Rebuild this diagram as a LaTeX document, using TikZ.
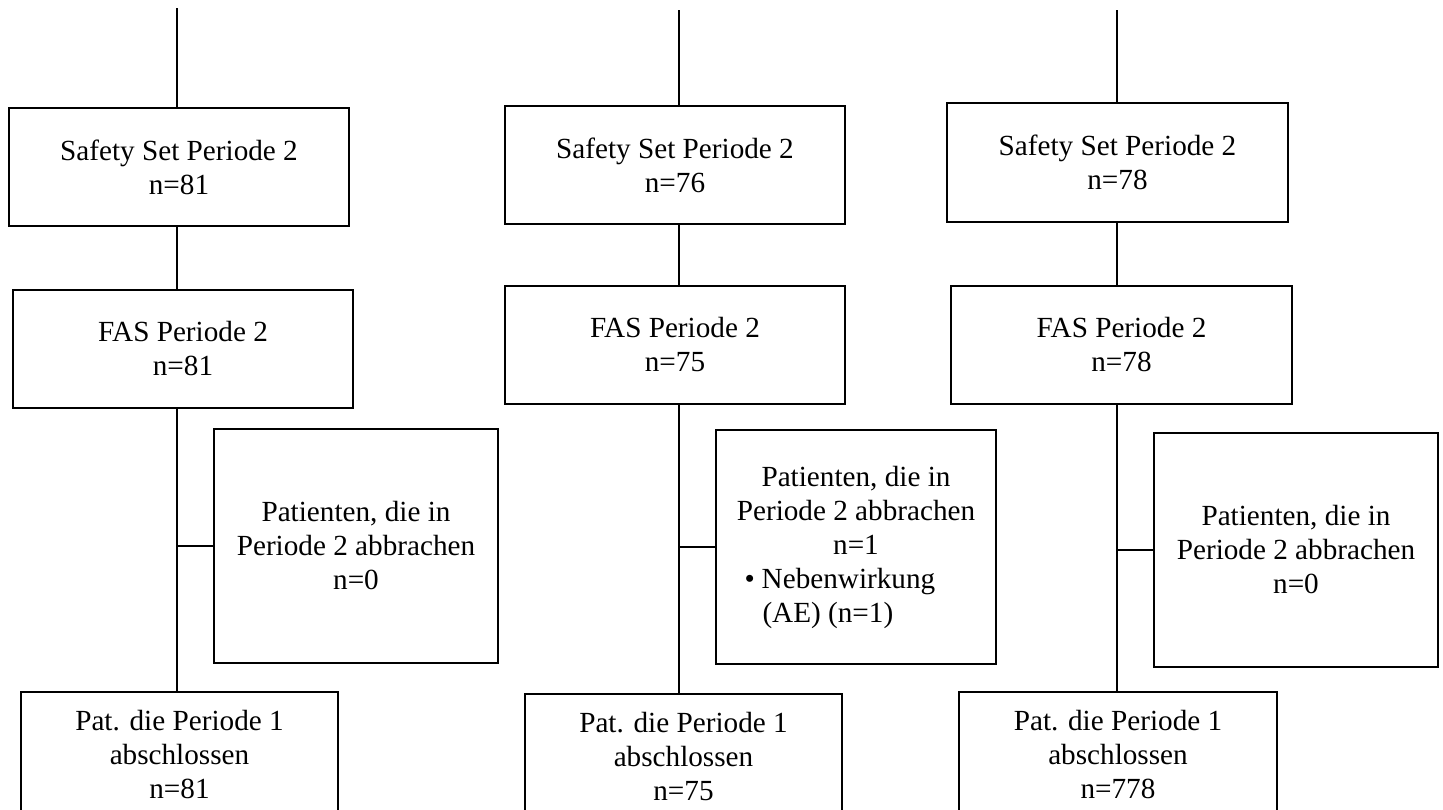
\documentclass[tikz,border=0pt]{standalone}
\usepackage{fontspec}
\setmainfont{Liberation Serif}
\tikzset{
  box/.style={draw, line width=1.8pt, inner sep=0pt, align=center,
    font=\fontsize{29.2}{34}\selectfont},
  conn/.style={line width=1.8pt},
}
\begin{document}
\begin{tikzpicture}[x=1pt,y=-1pt]
\useasboundingbox (0,0) rectangle (1443,809);
\clip (0,0) rectangle (1443,809);
\fill[white] (0,0) rectangle (1443,809);

% ---------- column 1
\node[box, minimum width=340pt, minimum height=118pt] (s1) at (179,167) {Safety Set Periode 2\\n=81};
\node[box, minimum width=340pt, minimum height=118pt] (f1) at (183,349) {FAS Periode 2\\n=81};
\node[box, minimum width=284pt, minimum height=234pt] (p1) at (356,546) {Patienten, die in\\Periode 2 abbrachen\\n=0};
\node[box, minimum width=317pt, minimum height=125pt] (b1) at (179.5,754.5) {Pat. die Periode 1\\abschlossen\\n=81};
\coordinate (t1) at (177,8);
\draw[conn] (t1) -- (t1 |- s1.north);
\draw[conn] (t1 |- s1.south) -- (t1 |- f1.north);
\draw[conn] (t1 |- f1.south) -- (t1 |- b1.north);
\draw[conn] (t1 |- p1.west) -- (p1.west);

% ---------- column 2
\node[box, minimum width=340pt, minimum height=118pt] (s2) at (675,165) {Safety Set Periode 2\\n=76};
\node[box, minimum width=340pt, minimum height=118pt] (f2) at (675,345) {FAS Periode 2\\n=75};
\node[box, minimum width=280pt, minimum height=234pt] (p2) at (856,547) {Patienten, die in\\Periode 2 abbrachen\\n=1\\
  \makebox[239pt][l]{\hspace{8pt}\textbullet\hspace{7pt}Nebenwirkung}\\
  \makebox[239pt][l]{\hspace{26pt}(AE) (n=1)}};
\node[box, minimum width=317pt, minimum height=125pt] (b2) at (683.5,756.5) {Pat. die Periode 1\\abschlossen\\n=75};
\coordinate (t2) at (679,10);
\draw[conn] (t2) -- (t2 |- s2.north);
\draw[conn] (t2 |- s2.south) -- (t2 |- f2.north);
\draw[conn] (t2 |- f2.south) -- (t2 |- b2.north);
\draw[conn] (t2 |- p2.west) -- (p2.west);

% ---------- column 3
\node[box, minimum width=341pt, minimum height=119pt] (s3) at (1117.5,162.5) {Safety Set Periode 2\\n=78};
\node[box, minimum width=341pt, minimum height=118pt] (f3) at (1121.5,345) {FAS Periode 2\\n=78};
\node[box, minimum width=284pt, minimum height=234pt] (p3) at (1296,550) {Patienten, die in\\Periode 2 abbrachen\\n=0};
\node[box, minimum width=318pt, minimum height=125pt] (b3) at (1118,754.5) {Pat. die Periode 1\\abschlossen\\n=778};
\coordinate (t3) at (1117,10);
\draw[conn] (t3) -- (t3 |- s3.north);
\draw[conn] (t3 |- s3.south) -- (t3 |- f3.north);
\draw[conn] (t3 |- f3.south) -- (t3 |- b3.north);
\draw[conn] (t3 |- p3.west) -- (p3.west);
\end{tikzpicture}
\end{document}
